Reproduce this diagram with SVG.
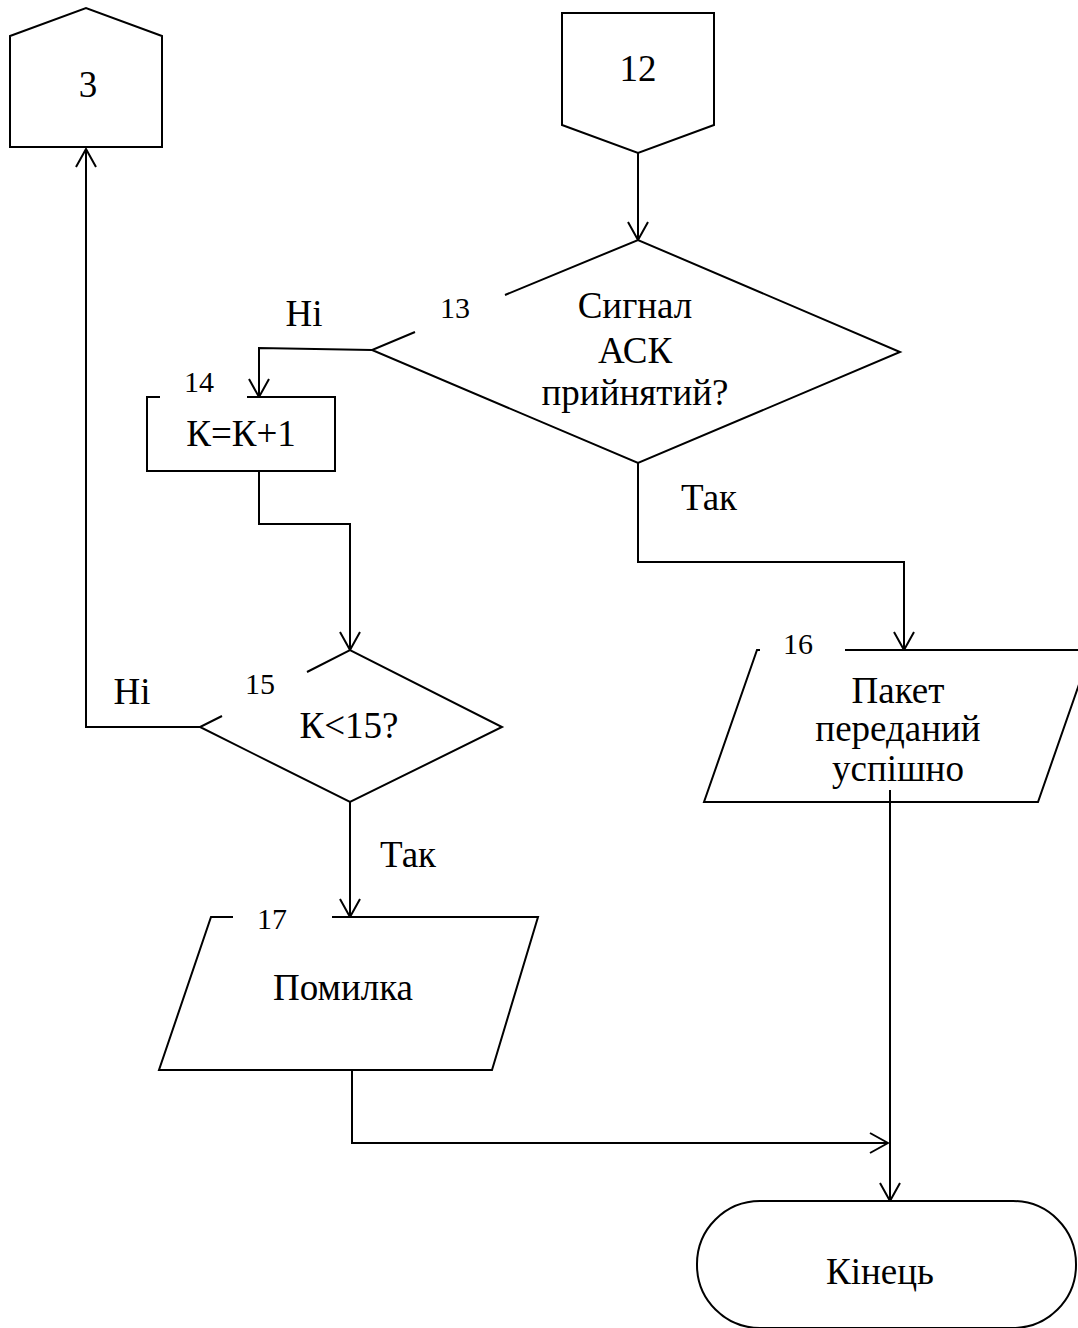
<svg xmlns="http://www.w3.org/2000/svg" width="1078" height="1328" viewBox="0 0 1078 1328">
  <defs>
    <marker id="arrow" viewBox="0 0 20 22" refX="19" refY="11" markerWidth="20" markerHeight="22" markerUnits="userSpaceOnUse" orient="auto">
      <path d="M1,1 L19,11 L1,21" fill="none" stroke="#000" stroke-width="2"/>
    </marker>
  </defs>
  <style>
    .shape { fill: none; stroke: #000; stroke-width: 2; stroke-linejoin: miter; }
    .link { fill: none; stroke: #000; stroke-width: 2; marker-end: url(#arrow); }
    .txt { font-family: "Liberation Serif", "Times New Roman", serif; font-size: 37px; fill: #000; text-anchor: middle; }
    .num { font-family: "Liberation Serif", "Times New Roman", serif; font-size: 30px; fill: #000; text-anchor: middle; }
  </style>
  <rect width="1078" height="1328" fill="#fff"/>

  <!-- off-page connector 3 -->
  <g id="node-3">
    <path class="shape" d="M10,147 L10,36 L86,8 L162,36 L162,147 Z"/>
    <text class="txt" x="88" y="97">3</text>
  </g>

  <!-- off-page connector 12 -->
  <g id="node-12">
    <path class="shape" d="M562,13 L714,13 L714,125 L638,153 L562,125 Z"/>
    <text class="txt" x="638" y="81">12</text>
  </g>

  <!-- decision 13 -->
  <g id="node-13">
    <path class="shape" d="M505,295 L638,240 L900,352 L638,463 L372,350 L415,332"/>
    <text class="num" x="455" y="318">13</text>
    <text class="txt" x="635" y="318">Сигнал</text>
    <text class="txt" x="635" y="363">АСК</text>
    <text class="txt" x="635" y="405">прийнятий?</text>
  </g>

  <!-- process 14 -->
  <g id="node-14">
    <path class="shape" d="M160,397 L147,397 L147,471 L335,471 L335,397 L247,397"/>
    <text class="num" x="199" y="392">14</text>
    <text class="txt" x="241" y="446">К=К+1</text>
  </g>

  <!-- decision 15 -->
  <g id="node-15">
    <path class="shape" d="M307,672 L350,650 L502,727 L350,802 L200,727 L222,716"/>
    <text class="num" x="260" y="694">15</text>
    <text class="txt" x="349" y="738">К&lt;15?</text>
  </g>

  <!-- output 16 -->
  <g id="node-16">
    <path class="shape" d="M760,650 L757,650 L704,802 L1038,802 L1091,650 L845,650"/>
    <text class="num" x="798" y="654">16</text>
    <text class="txt" x="898" y="703">Пакет</text>
    <text class="txt" x="898" y="741">переданий</text>
    <text class="txt" x="898" y="781">успішно</text>
  </g>

  <!-- output 17 -->
  <g id="node-17">
    <path class="shape" d="M233,917 L211,917 L159,1070 L492,1070 L538,917 L332,917"/>
    <text class="num" x="272" y="929">17</text>
    <text class="txt" x="343" y="1000">Помилка</text>
  </g>

  <!-- terminator -->
  <g id="node-end">
    <rect class="shape" x="697" y="1201" width="379" height="127" rx="63" ry="63"/>
    <text class="txt" x="880" y="1284">Кінець</text>
  </g>

  <!-- connectors -->
  <g id="connectors">
    <path class="link" d="M638,153 L638,240"/>
    <path class="link" d="M372,350 L259,348 L259,397"/>
    <path class="link" d="M259,471 L259,524 L350,524 L350,650"/>
    <path class="link" d="M200,727 L86,727 L86,149"/>
    <path class="link" d="M350,802 L350,917"/>
    <path class="link" d="M638,463 L638,562 L904,562 L904,650"/>
    <path class="link" d="M352,1070 L352,1143 L888,1143"/>
    <path class="link" d="M890,790 L890,1201"/>
  </g>

  <!-- branch labels -->
  <g id="labels">
    <text class="txt" x="304" y="326">Ні</text>
    <text class="txt" x="709" y="510">Так</text>
    <text class="txt" x="132" y="704">Ні</text>
    <text class="txt" x="408" y="867">Так</text>
  </g>
</svg>
